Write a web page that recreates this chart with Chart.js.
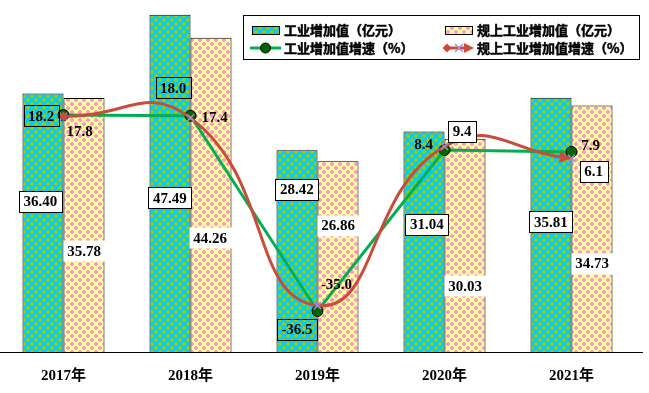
<!DOCTYPE html>
<html>
<head>
<meta charset="utf-8">
<script src="https://cdn.jsdelivr.net/npm/chart.js@4"></script>
<style>
html,body{margin:0;padding:0;background:#fff;}
canvas{display:block;}
</style>
</head>
<body>
<canvas id="c" width="649" height="393"></canvas>
<script>
// ---- data ----
const categories = ['2017年', '2018年', '2019年', '2020年', '2021年'];
const industryValue = [36.40, 47.49, 28.42, 31.04, 35.81];        // 工业增加值（亿元）
const aboveScaleValue = [35.78, 44.26, 26.86, 30.03, 34.73];      // 规上工业增加值（亿元）
const industryGrowth = [18.2, 18.0, -36.5, 8.4, 7.9];             // 工业增加值增速（%）
const aboveScaleGrowth = [17.8, 17.4, -35.0, 9.4, 6.1];           // 规上工业增加值增速（%）
const seriesNames = ['工业增加值（亿元）', '规上工业增加值（亿元）', '工业增加值增速（%）', '规上工业增加值增速（%）'];

// ---- label placement (style, pixel offsets from mark) ----
const labelLayout = [
  { style: 'frame', off: [[-2.5,108],[0,183],[0,39],[3,93],[0,124]] },
  { style: 'plain', off: [[0,153],[-1,200],[0,64],[0,147],[0,158]] },
  { styles: ['outline','outline','outline','none','none'], off: [[-22.5,1],[-17.5,-28],[-20.5,18.5],[-21,-6],[19,-7]] },
  { styles: ['none','none','none','frame','frame'], off: [[16,14.6],[24,-1],[19,-21.6],[17.5,-15.5],[22,13]] }
];

const NUM_FONT = 'bold 15px "Liberation Serif", "Noto Sans CJK SC", serif';
const CJK_FONT = 'bold 13px "Noto Sans CJK SC", sans-serif';

function makePattern(bg, fg) {
  const c = document.createElement('canvas');
  c.width = 8; c.height = 8;
  const g = c.getContext('2d');
  g.fillStyle = bg; g.fillRect(0, 0, 8, 8);
  g.fillStyle = fg;
  for (let y = 0; y < 8; y++) {
    for (let x = 0; x < 8; x++) {
      const px = x + 0.5, py = y + 0.5;
      const d1 = Math.abs(px - 4) + Math.abs(py - 4);
      const dx = Math.min(px, 8 - px), dy = Math.min(py, 8 - py);
      const d2 = dx + dy;
      if (d1 < 2.6 || d2 < 2.6) g.fillRect(x, y, 1, 1);
    }
  }
  return g.createPattern(c, 'repeat');
}

const ctx0 = document.getElementById('c').getContext('2d');
const patBlue = makePattern('#00CCFF', '#99CC00');
const patPink = makePattern('#FFFF99', '#FF99CC');
const GREEN = '#00B050';
const RED = '#CC4A3A';
const XCOL = '#9C8FD6';

function drawDiamond(ctx, x, y, r) {
  ctx.beginPath();
  ctx.moveTo(x, y - r); ctx.lineTo(x + r, y); ctx.lineTo(x, y + r); ctx.lineTo(x - r, y);
  ctx.closePath(); ctx.fill();
}
function drawArrow(ctx, x, y, ang, len, hw) {
  ctx.beginPath();
  ctx.moveTo(x, y);
  ctx.lineTo(x - len * Math.cos(ang) + hw * Math.sin(ang), y - len * Math.sin(ang) - hw * Math.cos(ang));
  ctx.lineTo(x - len * Math.cos(ang) - hw * Math.sin(ang), y - len * Math.sin(ang) + hw * Math.cos(ang));
  ctx.closePath(); ctx.fill();
}
function boldText(ctx, txt, x, y) {
  ctx.lineWidth = 0.5;
  ctx.strokeStyle = ctx.fillStyle;
  ctx.strokeText(txt, x, y);
  ctx.fillText(txt, x, y);
}

const decoPlugin = {
  id: 'deco',
  beforeDatasetsDraw(chart) {
    const ctx = chart.ctx, a = chart.chartArea;
    ctx.save();
    ctx.strokeStyle = '#000'; ctx.lineWidth = 1;
    ctx.beginPath(); ctx.moveTo(0, a.bottom + 0.5); ctx.lineTo(643, a.bottom + 0.5); ctx.stroke();
    ctx.restore();
  },
  afterDatasetsDraw(chart) {
    const ctx = chart.ctx;
    ctx.save();
    const rm = chart.getDatasetMeta(3).data;
    ctx.fillStyle = RED;
    drawDiamond(ctx, rm[0].x, rm[0].y, 5);
    const last = rm[rm.length - 1];
    const ang = Math.atan2(last.y - last.cp1y, last.x - last.cp1x);
    drawArrow(ctx, last.x, last.y, ang, 12, 5.5);

    ctx.font = NUM_FONT;
    ctx.textAlign = 'center';
    ctx.textBaseline = 'middle';
    chart.data.datasets.forEach((ds, di) => {
      const meta = chart.getDatasetMeta(di);
      const lay = labelLayout[di];
      meta.data.forEach((el, i) => {
        const v = ds.data[i];
        const txt = di < 2 ? v.toFixed(2) : v.toFixed(1);
        const style = lay.style || lay.styles[i];
        const cx = el.x + lay.off[i][0];
        const cy = el.y + lay.off[i][1];
        const w = Math.round(ctx.measureText(txt).width + 9);
        const h = 21;
        const bx = Math.round(cx - w / 2) + 0.5, by = Math.round(cy - h / 2) + 0.5;
        if (style === 'frame' || style === 'plain') {
          ctx.fillStyle = '#fff';
          ctx.fillRect(bx, by, w, h);
        }
        if (style === 'frame' || style === 'outline') {
          ctx.strokeStyle = '#000'; ctx.lineWidth = 1;
          ctx.strokeRect(bx, by, w, h);
        }
        ctx.fillStyle = '#000';
        ctx.fillText(txt, cx, cy + 1);
      });
    });
    ctx.restore();
  },
  afterDraw(chart) {
    const ctx = chart.ctx;
    ctx.save();
    ctx.fillStyle = '#fff';
    ctx.fillRect(243.5, 15.5, 396, 44);
    ctx.strokeStyle = '#000'; ctx.lineWidth = 1;
    ctx.strokeRect(243.5, 15.5, 396, 44);
    const ds = chart.data.datasets;
    const rows = [30, 48];
    const cols = [252, 445];
    [[patBlue, 0], [patPink, 1]].forEach(([p, k]) => {
      const x = cols[k], y = rows[0] - 4;
      ctx.fillStyle = p; ctx.fillRect(x, y, 27, 8);
      ctx.strokeStyle = '#000'; ctx.lineWidth = 1; ctx.strokeRect(x + 0.5, y + 0.5, 27, 8);
    });
    ctx.strokeStyle = GREEN; ctx.lineWidth = 3;
    ctx.beginPath(); ctx.moveTo(cols[0] - 2, rows[1]); ctx.lineTo(cols[0] + 29, rows[1]); ctx.stroke();
    ctx.fillStyle = '#006600'; ctx.strokeStyle = '#000'; ctx.lineWidth = 1;
    ctx.beginPath(); ctx.arc(cols[0] + 13.5, rows[1], 5, 0, Math.PI * 2); ctx.fill(); ctx.stroke();
    ctx.strokeStyle = RED; ctx.lineWidth = 3;
    ctx.beginPath(); ctx.moveTo(cols[1] + 2, rows[1]); ctx.lineTo(cols[1] + 22, rows[1]); ctx.stroke();
    ctx.fillStyle = RED;
    drawDiamond(ctx, cols[1] + 2, rows[1], 4.5);
    drawArrow(ctx, cols[1] + 29, rows[1], 0, 10, 5);
    ctx.strokeStyle = XCOL; ctx.lineWidth = 1.5;
    const mx = cols[1] + 14, my = rows[1];
    ctx.beginPath(); ctx.moveTo(mx - 4, my - 4); ctx.lineTo(mx + 4, my + 4); ctx.moveTo(mx + 4, my - 4); ctx.lineTo(mx - 4, my + 4); ctx.stroke();
    ctx.fillStyle = '#000';
    ctx.font = CJK_FONT;
    ctx.textAlign = 'left'; ctx.textBaseline = 'middle';
    boldText(ctx, ds[0].label, 284, rows[0]);
    boldText(ctx, ds[1].label, 477, rows[0]);
    boldText(ctx, ds[2].label, 284, rows[1]);
    boldText(ctx, ds[3].label, 477, rows[1]);
    ctx.restore();
  }
};

new Chart(ctx0, {
  data: {
    labels: categories,
    datasets: [
      { type: 'bar', label: seriesNames[0], data: industryValue, yAxisID: 'y',
        backgroundColor: patBlue, borderColor: '#000', borderWidth: 1, order: 3,
        barPercentage: 1, categoryPercentage: 0.646 },
      { type: 'bar', label: seriesNames[1], data: aboveScaleValue, yAxisID: 'y',
        backgroundColor: patPink, borderColor: '#000', borderWidth: 1, order: 3,
        barPercentage: 1, categoryPercentage: 0.646 },
      { type: 'line', label: seriesNames[2], data: industryGrowth, yAxisID: 'y2',
        borderColor: GREEN, borderWidth: 3, tension: 0, fill: false, order: 2,
        pointStyle: 'circle', pointRadius: 5.5, pointBackgroundColor: '#006600',
        pointBorderColor: '#000', pointBorderWidth: 1 },
      { type: 'line', label: seriesNames[3], data: aboveScaleGrowth, yAxisID: 'y2',
        borderColor: RED, borderWidth: 3, tension: 0.5, fill: false, order: 1,
        pointStyle: 'crossRot', pointRadius: 5, pointBorderColor: XCOL,
        pointBackgroundColor: XCOL, pointBorderWidth: 1.5 }
    ]
  },
  options: {
    responsive: false,
    animation: false,
    devicePixelRatio: 1,
    layout: { autoPadding: false, padding: { left: 0, right: 14, top: 0, bottom: 8 } },
    plugins: { legend: { display: false }, tooltip: { enabled: false } },
    scales: {
      x: {
        offset: true,
        grid: { display: false, drawTicks: false },
        border: { display: false },
        ticks: { color: '#000', padding: 15, font: { family: '"Liberation Serif", "Noto Sans CJK SC", serif', size: 15, weight: 'bold' } },
        afterFit(scale) { scale.height = 33; }
      },
      y: { display: false, min: 0, max: 49.57 },
      y2: { display: false, min: -47.95, max: 50.29, position: 'right' }
    }
  },
  plugins: [decoPlugin]
});
</script>
</body>
</html>
